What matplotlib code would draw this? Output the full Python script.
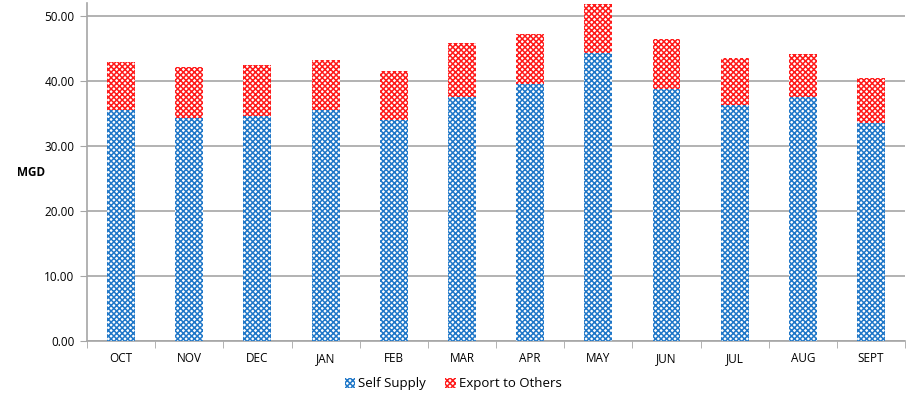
import numpy as np
import matplotlib.pyplot as plt
from matplotlib.patches import Patch

meses = ['OCT', 'NOV', 'DEC', 'JAN', 'FEB', 'MAR', 'APR', 'MAY', 'JUN', 'JUL', 'AUG', 'SEPT']
self_supply = [35.5, 34.3, 34.6, 35.5, 34.0, 37.6, 39.6, 44.3, 38.7, 36.3, 37.5, 33.5]
export_others = [7.5, 7.8, 7.9, 7.7, 7.6, 8.2, 7.6, 7.5, 7.8, 7.3, 6.6, 6.9]

azul = '#1f77c8'
vermelho = '#ff1a1a'
cinza = '#a6a6a6'

plt.rcParams['font.family'] = ['Open Sans', 'DejaVu Sans']
plt.rcParams['hatch.linewidth'] = 1.1

fig = plt.figure(figsize=(9.06, 4.0), dpi=100)
ax = fig.add_axes([0.096, 0.1475, 0.903, 0.845])

x = np.arange(len(meses))
largura = 0.41
padrao = 'xxxxxx'

ax.bar(x, self_supply, largura, color='white', edgecolor=azul, hatch=padrao, linewidth=0, zorder=3)
ax.bar(x, export_others, largura, bottom=self_supply, color='white', edgecolor=vermelho,
       hatch=padrao, linewidth=0, zorder=3)

ax.set_xlim(-0.5, len(meses) - 0.5)
ax.set_ylim(0, 52)
ax.set_yticks(np.arange(0, 51, 10))
ax.set_yticklabels(['%.2f' % v for v in np.arange(0, 51, 10)], fontsize=8.5)
ax.set_xticks(x)
ax.set_xticklabels(meses, fontsize=8.5)
ax.set_xticks(np.arange(-0.5, len(meses), 1), minor=True)
ax.tick_params(axis='x', which='major', length=0, pad=8)
ax.tick_params(axis='x', which='minor', length=5, color=cinza)
ax.tick_params(axis='y', length=5, color=cinza, pad=4)

ax.grid(axis='y', color=cinza, linewidth=1.2, zorder=0)
for lado in ['top', 'right']:
    ax.spines[lado].set_visible(False)
for lado in ['left', 'bottom']:
    ax.spines[lado].set_color(cinza)
    ax.spines[lado].set_linewidth(1.2)

ax.set_ylabel('MGD', rotation=0, fontsize=8.5, fontweight='bold', va='center', ha='center')
ax.yaxis.set_label_coords(-0.068, 0.5)

legenda = [Patch(facecolor='white', edgecolor=azul, hatch=padrao, linewidth=0, label='Self Supply'),
           Patch(facecolor='white', edgecolor=vermelho, hatch=padrao, linewidth=0, label='Export to Others')]
fig.legend(handles=legenda, loc='center', bbox_to_anchor=(0.5, 0.04), ncol=2, frameon=False,
           fontsize=9.5, handlelength=0.8, handleheight=0.8, handletextpad=0.2, columnspacing=1.5)

fig.savefig('out.png', dpi=100)
